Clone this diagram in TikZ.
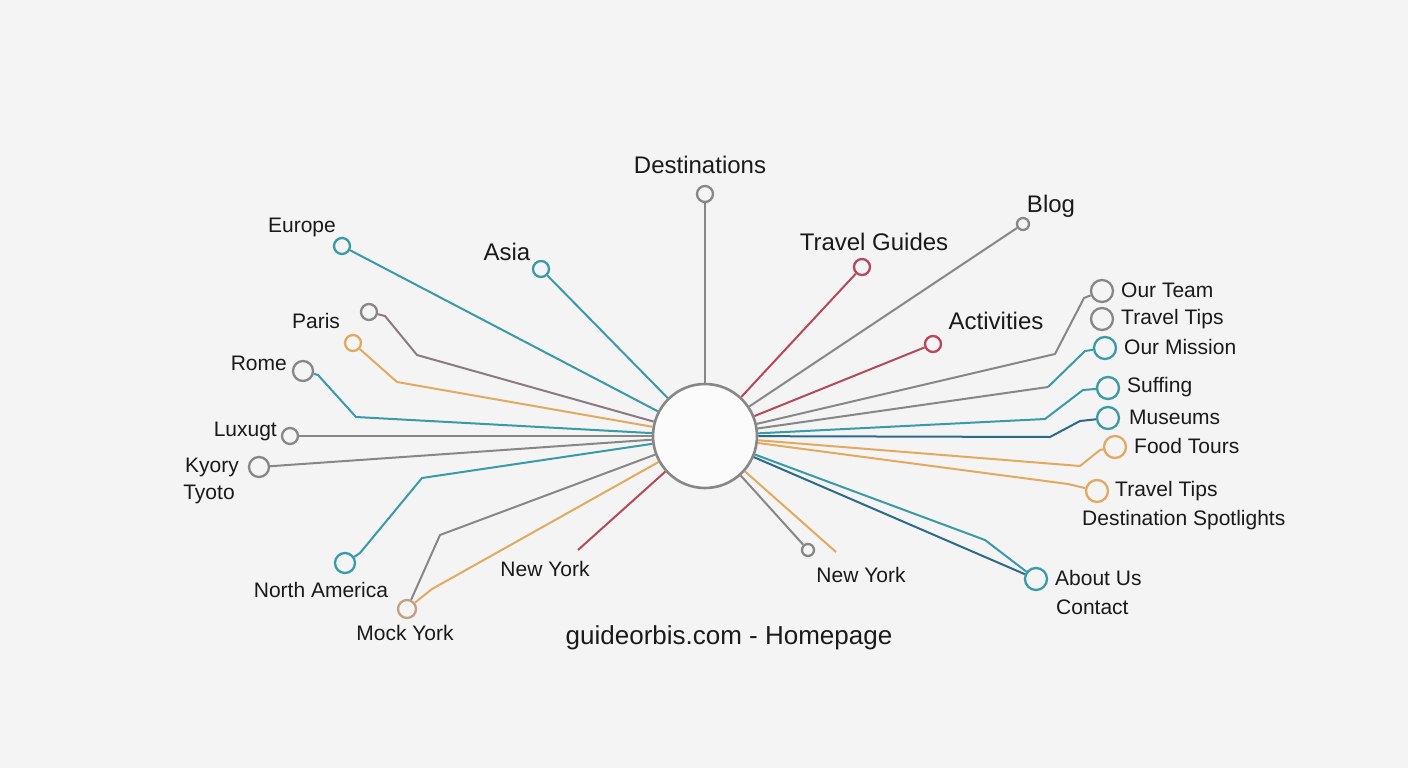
\documentclass[tikz,border=0pt]{standalone}
\usepackage{fontspec}
\setmainfont{Liberation Sans}
\definecolor{bg}{HTML}{F4F4F4}
\definecolor{txt}{HTML}{1A1A1A}
\definecolor{cgray}{HTML}{878787}
\definecolor{cteal}{HTML}{3A9AA8}
\definecolor{cred}{HTML}{B5485A}
\definecolor{corange}{HTML}{E2AA60}
\definecolor{cblue}{HTML}{2C6A8C}
\definecolor{cmauve}{HTML}{8A7B82}
\definecolor{ctan}{HTML}{C4A082}
\begin{document}
\begin{tikzpicture}[x=1pt,y=-1pt,
  ln/.style={line width=2pt, line join=round},
  dot/.style={circle, draw, line width=2.3pt, fill=bg, inner sep=0pt, minimum size=#1},
  dot/.default=16pt,
  lab/.style={font=\fontsize{21}{24}\selectfont, text=txt, inner sep=0pt},
  big/.style={font=\fontsize{24}{28}\selectfont, text=txt, inner sep=0pt},
  hubst/.style={circle, draw=cgray, line width=2.6pt, fill=white!60!bg, minimum size=104pt, inner sep=0pt}]
\path[fill=bg] (0,0) rectangle (1408,768);
\useasboundingbox (0,0) rectangle (1408,768);

% hub
\node[hubst] (hub) at (705,436) {};

% end circles
\node[dot, draw=cgray] (dest) at (705,194) {};
\node[dot=12pt, draw=cgray] (blog) at (1023,224) {};
\node[dot, draw=cred] (tg) at (862,267) {};
\node[dot, draw=cred] (act) at (933,344) {};
\node[dot=22pt, draw=cgray] (team) at (1102,291) {};
\node[dot=22pt, draw=cgray] (tt1) at (1102,319) {};
\node[dot=22pt, draw=cteal] (mission) at (1105,348) {};
\node[dot=22pt, draw=cteal] (surf) at (1108,388) {};
\node[dot=22pt, draw=cteal] (mus) at (1108,418) {};
\node[dot=22pt, draw=corange] (food) at (1115,447) {};
\node[dot=22pt, draw=corange] (tt2) at (1097,491) {};
\node[dot=22pt, draw=cteal] (about) at (1036,579) {};
\node[dot=12pt, draw=cgray] (nyr) at (808,550) {};
\coordinate (nyro) at (836,552);
\coordinate (nyl) at (578,550);
\node[dot=18pt, draw=ctan] (mock) at (407,609) {};
\node[dot=20pt, draw=cteal] (na) at (345,563) {};
\node[dot=20pt, draw=cgray] (kyory) at (259,467) {};
\node[dot, draw=cgray] (lux) at (290,436) {};
\node[dot=20pt, draw=cgray] (rome) at (303,371) {};
\node[dot, draw=corange] (parisO) at (353,343) {};
\node[dot, draw=cgray] (parisG) at (369,312) {};
\node[dot, draw=cteal] (eu) at (342,246) {};
\node[dot, draw=cteal] (asia) at (541,269) {};

% connectors
\draw[ln, cgray] (hub) -- (dest);
\draw[ln, cgray] (hub) -- (blog);
\draw[ln, cred] (hub) -- (tg);
\draw[ln, cred] (hub) -- (act);
\draw[ln, cgray] (hub) -- (1055,354) -- (1084,298) -- (team);
\draw[ln, cgray] (hub) -- (1048,387);
\draw[ln, cteal] (1048,387) -- (1085,351) -- (mission);
\draw[ln, cteal] (hub) -- (1045,419) -- (1083,390) -- (surf);
\draw[ln, cblue] (hub) -- (1050,437) -- (1080,421) -- (mus);
\draw[ln, corange] (hub) -- (1080,466) -- (1100,450) -- (food);
\draw[ln, corange] (hub) -- (1068,484) -- (tt2);
\draw[ln, cteal] (hub) -- (985,540) -- (about);
\draw[ln, cblue] (hub) -- (about);
\draw[ln, cgray] (hub) -- (nyr);
\draw[ln, corange] (hub) -- (nyro);
\draw[ln, cred] (hub) -- (nyl);
\draw[ln, cgray] (hub) -- (440,535) -- (mock);
\draw[ln, corange] (hub) -- (432,589) -- (mock);
\draw[ln, cteal] (hub) -- (422,478) -- (360,553) -- (na);
\draw[ln, cgray] (hub) -- (kyory);
\draw[ln, cgray] (hub) -- (lux);
\draw[ln, cteal] (hub) -- (356,417) -- (318,375) -- (rome);
\draw[ln, corange] (hub) -- (397,382) -- (parisO);
\draw[ln, cmauve] (hub) -- (417,355) -- (385,316) -- (parisG);
\draw[ln, cteal] (hub) -- (eu);
\draw[ln, cteal] (hub) -- (asia);

% labels
\node[big] (ldest) at (700,165) {Destinations};
\node[big] (lblog) at (1051,206) {Blog};
\node[big] (ltg) at (874,242) {Travel Guides};
\node[big] (lact) at (996,321) {Activities};
\node[lab, anchor=west] (lteam) at (1121,290) {Our Team};
\node[lab, anchor=west] (ltt1) at (1121,319) {Travel Tips};
\node[lab, anchor=west] (lmission) at (1124,347) {Our Mission};
\node[lab, anchor=west] (lsurf) at (1127,387) {Suffing};
\node[lab, anchor=west] (lmus) at (1129,417) {Museums};
\node[lab, anchor=west] (lfood) at (1134,446) {Food Tours};
\node[lab, anchor=west] (ltt2) at (1115,491) {Travel Tips};
\node[lab, anchor=west] (lspot) at (1082,520) {Destination Spotlights};
\node[lab, anchor=west] (labout) at (1055,578) {About Us};
\node[lab, anchor=west] (lcontact) at (1056,607) {Contact};
\node[lab] (lnyr) at (861,575) {New York};
\node[lab] (lnyl) at (545,569) {New York};
\node[font=\fontsize{26}{30}\selectfont, text=txt, inner sep=0pt] (lhome) at (729,638) {guideorbis.com - Homepage};
\node[lab] (lmock) at (405,633) {Mock York};
\node[lab] (lna) at (321,590) {North America};
\node[lab] (lkyory) at (212,467) {Kyory};
\node[lab] (ltyoto) at (209,494) {Tyoto};
\node[lab, anchor=east] (llux) at (277,431) {Luxugt};
\node[lab, anchor=east] (lrome) at (287,363) {Rome};
\node[lab] (lparis) at (316,321) {Paris};
\node[lab] (leu) at (302,227) {Europe};
\node[big] (lasia) at (507,252) {Asia};
\end{tikzpicture}
\end{document}
